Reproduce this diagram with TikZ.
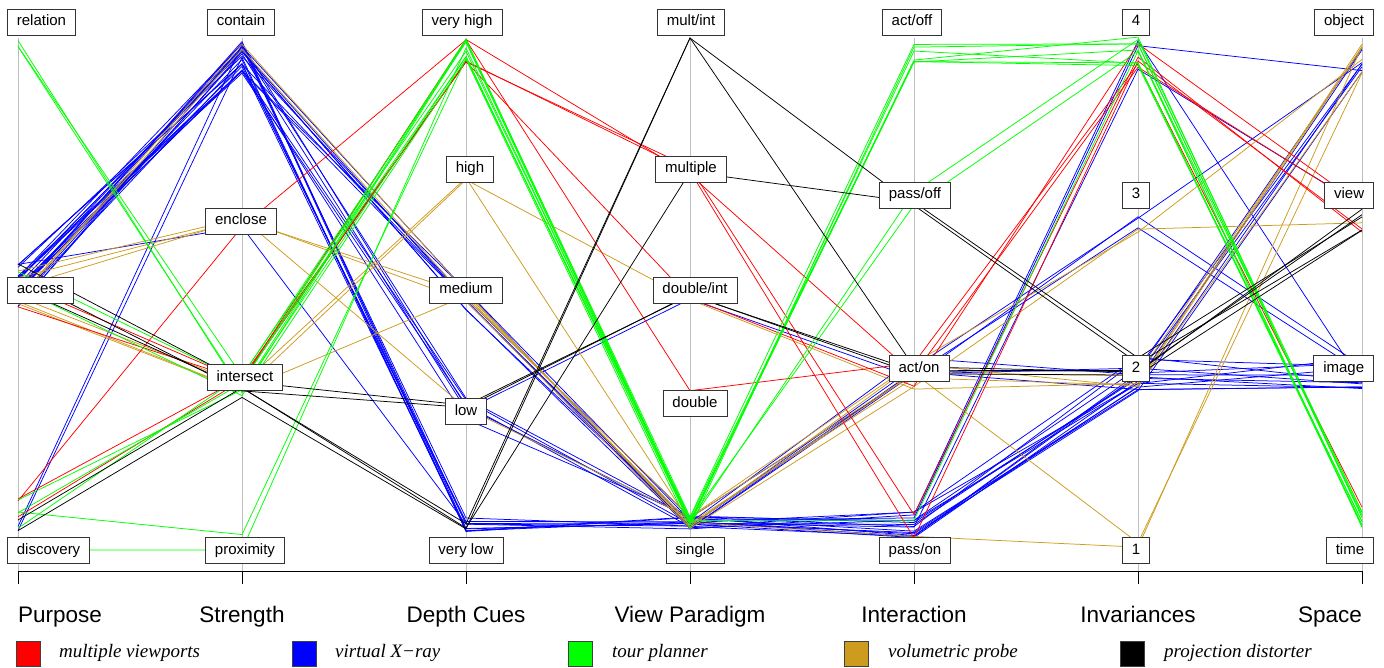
\documentclass[tikz,border=0pt]{standalone}
\usepackage{fontspec}
\setmainfont{Liberation Sans}
\newfontfamily\legfont{Liberation Serif}
\definecolor{cR}{RGB}{255,0,0}
\definecolor{cB}{RGB}{0,0,255}
\definecolor{cG}{RGB}{0,255,0}
\definecolor{cO}{RGB}{205,155,29}
\definecolor{cK}{RGB}{0,0,0}
\newcommand\setv[3]{\expandafter\def\csname v#1\endcsname{#2}\expandafter\def\csname a#1\endcsname{#3}}
\newcommand\pcjit[2]{\pgfmathsetmacro#1{\csname v#2\endcsname+\csname a#2\endcsname*rand}}
\newcommand\pcline[8]{\pcjit\pya{#2}\pcjit\pyb{#3}\pcjit\pyc{#4}\pcjit\pyd{#5}\pcjit\pye{#6}\pcjit\pyf{#7}\pcjit\pyg{#8}%
  \draw[dl,#1] (18,\pya) -- (242,\pyb) -- (466,\pyc) -- (690,\pyd) -- (914,\pye) -- (1138,\pyf) -- (1362,\pyg);}
% value positions: name, centre, jitter
\setv{R}{45}{7}\setv{A}{285}{22}\setv{D}{515}{17}
\setv{C}{57}{18}\setv{E}{226}{8}\setv{I}{385}{15}\setv{X}{535}{3}
\setv{VH}{50}{12}\setv{H}{180}{3}\setv{M}{300}{12}\setv{L}{410}{13}\setv{VL}{525}{8}
\setv{MI}{38}{0}\setv{MU}{170}{8}\setv{DI}{297}{6}\setv{DO}{392}{3}\setv{SI}{523}{7}
\setv{AF}{52}{16}\setv{PF}{200}{10}\setv{AN}{375}{18}\setv{PN}{525}{13}
\setv{4}{55}{18}\setv{3}{220}{14}\setv{2}{375}{18}\setv{1}{545}{5}
\setv{O}{55}{18}\setv{V}{220}{15}\setv{IM}{375}{18}\setv{T}{520}{13}
\begin{document}
\begin{tikzpicture}[x=1pt,y=-1pt,
  dl/.style={line width=0.75pt},
  lab/.style={draw=black!80,fill=white,line width=0.8pt,font=\fontsize{15}{15}\selectfont,
    inner xsep=9.5pt,inner ysep=0pt,minimum height=26pt,text height=11pt,text depth=3pt},
  axname/.style={font=\fontsize{22.5}{22.5}\selectfont,inner sep=0pt},
  leg/.style={font=\fontsize{19}{19}\selectfont\legfont\itshape,inner sep=0pt,anchor=west},
  sq/.style={draw=black!75,line width=0.6pt}]
\useasboundingbox (0,0) rectangle (1384,668);
\pgfmathsetseed{3}
% grey axes
\foreach \x in {18,242,466,690,914,1138,1362} \draw[gray!50,line width=0.6pt] (\x,38) -- (\x,571);
% blue
\pcline{cB}{A}{C}{M}{SI}{PN}{2}{IM}
\pcline{cB}{A}{C}{M}{SI}{PN}{2}{IM}
\pcline{cB}{A}{C}{M}{SI}{PN}{2}{O}
\pcline{cB}{A}{C}{M}{SI}{AN}{2}{IM}
\pcline{cB}{A}{C}{M}{SI}{AN}{2}{O}
\pcline{cB}{A}{C}{M}{SI}{PN}{4}{O}
\pcline{cB}{A}{C}{M}{SI}{AN}{3}{IM}
\pcline{cB}{A}{C}{M}{SI}{PN}{2}{IM}
\pcline{cB}{A}{C}{L}{SI}{PN}{2}{IM}
\pcline{cB}{A}{C}{L}{SI}{PN}{2}{IM}
\pcline{cB}{A}{C}{L}{SI}{AN}{2}{O}
\pcline{cB}{A}{C}{L}{SI}{PN}{2}{IM}
\pcline{cB}{A}{C}{L}{DI}{AN}{3}{IM}
\pcline{cB}{A}{C}{L}{SI}{PN}{2}{O}
\pcline{cB}{A}{C}{VL}{SI}{PN}{2}{IM}
\pcline{cB}{A}{C}{VL}{SI}{PN}{2}{O}
\pcline{cB}{A}{C}{VL}{SI}{PN}{4}{V}
\pcline{cB}{A}{C}{VL}{SI}{AN}{2}{IM}
\pcline{cB}{A}{C}{VL}{SI}{PN}{2}{IM}
\pcline{cB}{A}{C}{VL}{SI}{PN}{2}{O}
\pcline{cB}{A}{C}{VL}{SI}{PN}{2}{IM}
\pcline{cB}{A}{E}{VL}{SI}{PN}{4}{IM}
\pcline{cB}{D}{C}{VL}{SI}{AN}{3}{O}
\pcline{cB}{D}{C}{VL}{SI}{PN}{2}{IM}
% gold
\pcline{cO}{A}{C}{M}{SI}{AN}{2}{O}
\pcline{cO}{A}{C}{M}{SI}{AN}{3}{O}
\pcline{cO}{A}{E}{M}{SI}{AN}{3}{V}
\pcline{cO}{A}{E}{M}{SI}{AN}{2}{O}
\pcline{cO}{A}{E}{L}{SI}{AN}{1}{O}
\pcline{cO}{A}{I}{H}{DI}{AN}{2}{O}
\pcline{cO}{A}{I}{H}{SI}{PN}{1}{O}
\pcline{cO}{A}{I}{M}{SI}{AN}{2}{O}
% red
\pcline{cR}{A}{I}{VH}{MU}{PN}{4}{V}
\pcline{cR}{A}{I}{VH}{MU}{PN}{4}{V}
\pcline{cR}{D}{I}{VH}{MU}{AN}{4}{V}
\pcline{cR}{D}{I}{VH}{DI}{AN}{4}{V}
\pcline{cR}{D}{E}{VH}{DO}{AN}{4}{T}
% green
\pcline{cG}{R}{I}{VH}{SI}{AF}{4}{T}
\pcline{cG}{R}{I}{VH}{SI}{AF}{4}{T}
\pcline{cG}{R}{I}{VH}{SI}{AF}{4}{T}
\pcline{cG}{A}{I}{VH}{SI}{AF}{4}{T}
\pcline{cG}{A}{I}{VH}{SI}{PF}{4}{T}
\pcline{cG}{D}{I}{VH}{SI}{PF}{4}{T}
\pcline{cG}{D}{I}{VH}{SI}{AF}{4}{T}
\pcline{cG}{D}{I}{VH}{SI}{PN}{4}{T}
\pcline{cG}{D}{X}{VH}{SI}{AF}{4}{T}
\draw[dl,cG] (18,550) -- (242,550) -- (466,48) -- (690,522) -- (914,62) -- (1138,50) -- (1362,526);
% black
\pcline{cK}{A}{I}{L}{DI}{AN}{2}{V}
\pcline{cK}{A}{I}{L}{DI}{AN}{2}{V}
\pcline{cK}{A}{I}{VL}{MI}{AN}{2}{V}
\pcline{cK}{D}{I}{VL}{MI}{PF}{2}{V}
\pcline{cK}{D}{I}{VL}{MU}{PF}{2}{V}
% labels
\node[lab,anchor=west] (relation) at (7,22) {relation};
\node[lab,anchor=west] (access) at (7,290) {access};
\node[lab,anchor=west] (discovery) at (7,550) {discovery};
\node[lab] (contain) at (241,22) {contain};
\node[lab] (enclose) at (241,221) {enclose};
\node[lab] (intersect) at (245,377) {intersect};
\node[lab] (proximity) at (245,550) {proximity};
\node[lab] (veryhigh) at (462,22) {very high};
\node[lab] (high) at (470,169) {high};
\node[lab] (medium) at (466,290) {medium};
\node[lab] (low) at (466,411) {low};
\node[lab] (verylow) at (466,550) {very low};
\node[lab] (multint) at (691,22) {mult/int};
\node[lab] (multiple) at (691,169) {multiple};
\node[lab] (doubleint) at (695,290) {double/int};
\node[lab] (double) at (695,403) {double};
\node[lab] (single) at (695,550) {single};
\node[lab] (actoff) at (912,22) {act/off};
\node[lab] (passoff) at (915,195) {pass/off};
\node[lab] (acton) at (919,368) {act/on};
\node[lab] (passon) at (915,550) {pass/on};
\node[lab] (i4) at (1136,22) {4};
\node[lab] (i3) at (1136,195) {3};
\node[lab] (i2) at (1136,368) {2};
\node[lab] (i1) at (1136,550) {1};
\node[lab,anchor=east] (object) at (1374,22) {object};
\node[lab,anchor=east] (view) at (1374,195) {view};
\node[lab,anchor=east] (image) at (1374,368) {image};
\node[lab,anchor=east] (time) at (1374,550) {time};
% bottom axis
\draw[line width=0.7pt] (18,584) -- (18,571) -- (1362,571) -- (1362,584);
\foreach \x in {242,466,690,914,1138} \draw[line width=0.7pt] (\x,571) -- (\x,584);
\node[axname,anchor=base west] (nP) at (18,622) {Purpose};
\node[axname,anchor=base] (nS) at (242,622) {Strength};
\node[axname,anchor=base] (nD) at (466,622) {Depth Cues};
\node[axname,anchor=base] (nV) at (690,622) {View Paradigm};
\node[axname,anchor=base] (nI) at (914,622) {Interaction};
\node[axname,anchor=base] (nN) at (1138,622) {Invariances};
\node[axname,anchor=base east] (nSp) at (1362,622) {Space};
% legend
\filldraw[sq,fill=cR] (16,641) rectangle (40,666);
\filldraw[sq,fill=cB] (292,641) rectangle (316,666);
\filldraw[sq,fill=cG] (568,641) rectangle (592,666);
\filldraw[sq,fill=cO] (844,641) rectangle (868,666);
\filldraw[sq,fill=cK] (1120,641) rectangle (1144,666);
\node[leg] (l1) at (59,653) {multiple viewports};
\node[leg] (l2) at (335,653) {virtual X\textminus ray};
\node[leg] (l3) at (612,653) {tour planner};
\node[leg] (l4) at (888,653) {volumetric probe};
\node[leg] (l5) at (1164,653) {projection distorter};
\end{tikzpicture}
\end{document}
